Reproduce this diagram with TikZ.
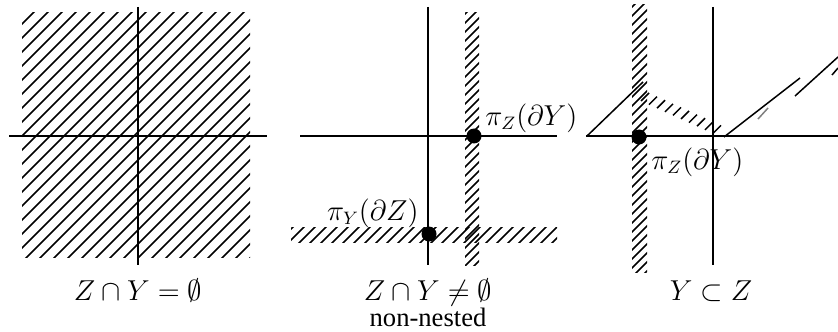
\documentclass[tikz,border=0pt]{standalone}
\usepackage{fontspec}
\setmainfont{Liberation Serif}
\begin{document}
\begin{tikzpicture}[x=0.5pt,y=-0.5pt,
  axis/.style={line width=1.4pt},
  hatch/.style={line width=0.75pt},
  dot/.style={circle,fill=black,inner sep=0pt,minimum size=7.5pt},
  lbl/.style={font=\fontsize{13.3}{15}\selectfont,inner sep=0pt}]
\useasboundingbox (0,0) rectangle (838,331);
% ---------- panel 1 ----------
\begin{scope}
  \clip (22,13) rectangle (250,257);
  \foreach \c in {4,18,...,520} \draw[hatch] (\c-300,300) -- (\c,0);
\end{scope}
\coordinate (a1t) at (138,7);  \coordinate (a1b) at (138,265);
\coordinate (a1l) at (9,136);  \coordinate (a1r) at (267,136);
\draw[axis] (a1t) -- (a1b);
\draw[axis] (a1l) -- (a1r);
\node[lbl,anchor=base] (l1) at (138,300) {$Z\cap Y=\emptyset$};
% ---------- panel 2 ----------
\begin{scope}
  \clip (465,13) rectangle (479,265);
  \foreach \c in {470,479,...,760} \draw[hatch] (\c-300,300) -- (\c,0);
\end{scope}
\begin{scope}
  \clip (291,227) rectangle (557,242);
  \foreach \c in {520,531,...,820} \draw[hatch] (\c-300,300) -- (\c,0);
\end{scope}
\coordinate (a2t) at (428,7);  \coordinate (a2b) at (428,265);
\coordinate (a2l) at (300,136); \coordinate (a2r) at (557,136);
\draw[axis] (a2t) -- (a2b);
\draw[axis] (a2l) -- (a2r);
\node[dot] (d1) at (474,136) {};
\node[dot] (d2) at (429,234) {};
\node[lbl,anchor=west] (p1) at (485,118) {$\pi_Z(\partial Y)$};
\node[lbl,anchor=east] (p2) at (419,213) {$\pi_Y(\partial Z)$};
\node[lbl,anchor=base] (l2) at (428,300) {$Z\cap Y\neq\emptyset$};
\node[lbl,anchor=base] (l2b) at (428,326) {non-nested};
% ---------- panel 3 ----------
\begin{scope}
  \clip (632,5) rectangle (647,272);
  \foreach \c in {630,639,...,930} \draw[hatch] (\c-300,300) -- (\c,0);
\end{scope}
\draw[hatch] (587,136) -- (643,82);
\foreach \i in {0,...,9} {
  \draw[hatch] ({641+8*\i},{101+3.6*\i}) -- ++(8,-8);
}
\draw[hatch] (724,137) -- (800,78);
\draw[hatch,gray] (758,119) -- (768,108);
\draw[hatch] (795,96) -- (838,57);
\draw[hatch] (832,75) -- (838,68);
\coordinate (a3t) at (713,7);  \coordinate (a3b) at (713,265);
\coordinate (a3l) at (586,136); \coordinate (a3r) at (838,136);
\draw[axis] (a3t) -- (a3b);
\draw[axis] (a3l) -- (a3r);
\node[dot] (d3) at (639,137) {};
\node[lbl,anchor=west] (p3) at (651,162) {$\pi_Z(\partial Y)$};
\node[lbl,anchor=base] (l3) at (711,300) {$Y\subset Z$};
\end{tikzpicture}
\end{document}
